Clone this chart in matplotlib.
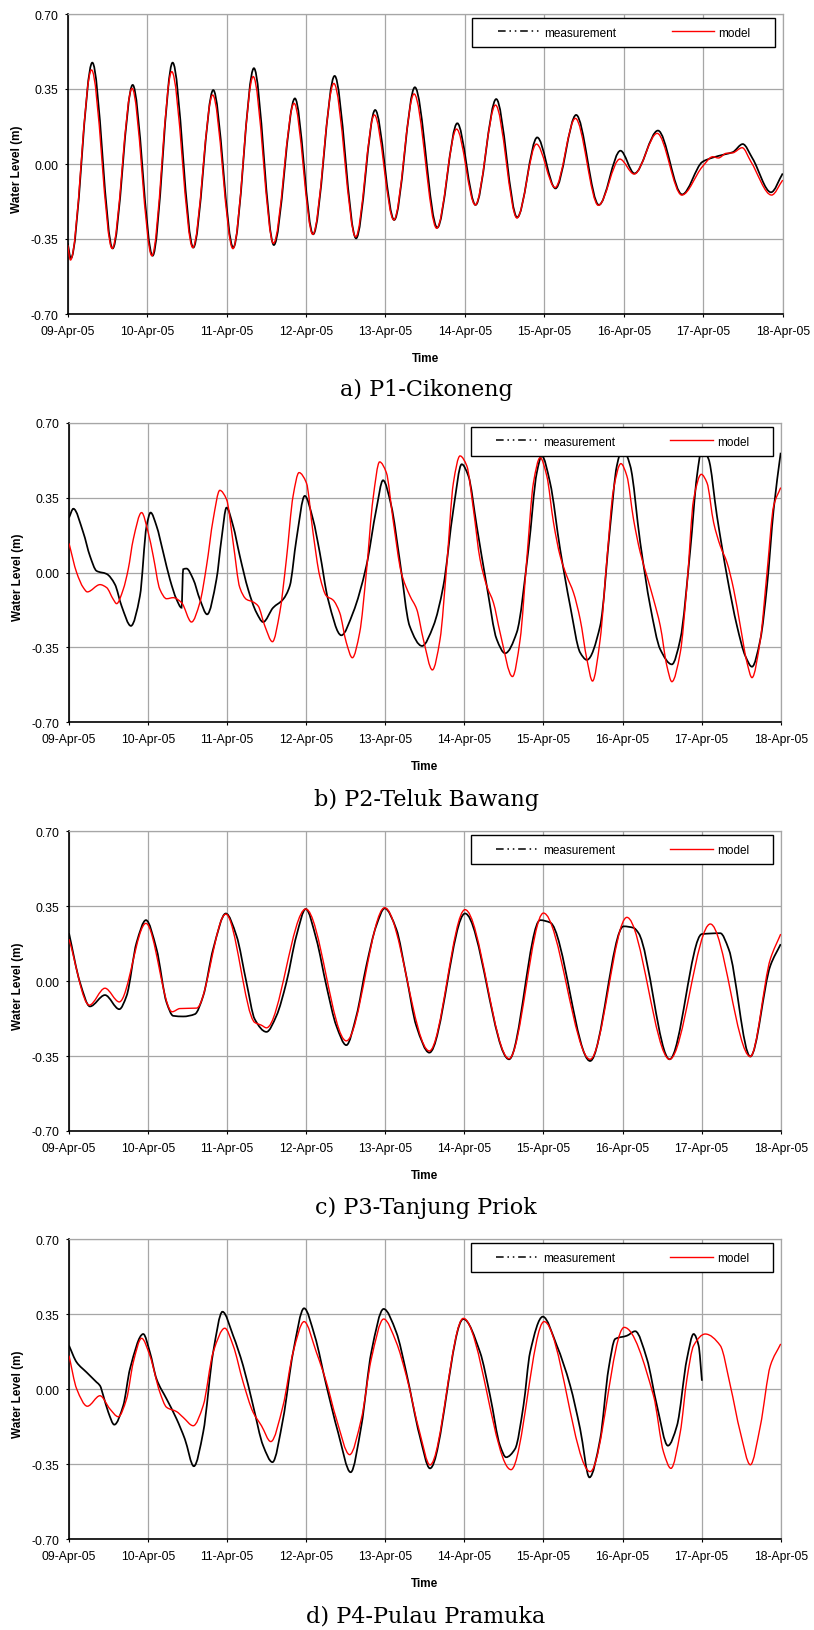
import numpy as np
import matplotlib
matplotlib.use("Agg")
import matplotlib.pyplot as plt
from matplotlib.path import Path
from matplotlib.patches import PathPatch, Rectangle
from matplotlib.lines import Line2D

plt.rcParams['font.family'] = ['Liberation Sans', 'DejaVu Sans']
plt.rcParams['axes.unicode_minus'] = False

# x axis: days since 09-Apr-05
day_labels = ['09-Apr-05', '10-Apr-05', '11-Apr-05', '12-Apr-05', '13-Apr-05',
              '14-Apr-05', '15-Apr-05', '16-Apr-05', '17-Apr-05', '18-Apr-05']
level_ticks = [-0.70, -0.35, 0.00, 0.35, 0.70]
captions = ['a) P1-Cikoneng', 'b) P2-Teluk Bawang', 'c) P3-Tanjung Priok', 'd) P4-Pulau Pramuka']

# ---- P1 Cikoneng (extrema and a few shoulder points)
p1_meas_t = [0.00, 0.04, 0.31, 0.566, 0.818, 1.069, 1.321, 1.581, 1.832, 2.084,
             2.344, 2.595, 2.86, 3.09, 3.36, 3.63, 3.87, 4.11, 4.37, 4.652,
             4.904, 5.134, 5.394, 5.658, 5.91, 6.14, 6.40, 6.686, 6.958, 7.134,
             7.43, 7.734, 7.99, 8.12, 8.27, 8.37, 8.497, 8.62, 8.853, 9.0]
p1_meas_v = [-0.37, -0.44, 0.473, -0.394, 0.369, -0.428, 0.473, -0.39, 0.345, -0.39,
             0.447, -0.378, 0.306, -0.328, 0.411, -0.347, 0.252, -0.261, 0.358, -0.297,
             0.190, -0.191, 0.303, -0.249, 0.124, -0.114, 0.229, -0.191, 0.062, -0.044,
             0.156, -0.142, 0.01, 0.03, 0.045, 0.055, 0.093, 0.026, -0.132, -0.044]
p1_mod_t = [0.00, 0.035, 0.30, 0.56, 0.81, 1.06, 1.31, 1.575, 1.825, 2.08,
            2.335, 2.59, 2.85, 3.085, 3.35, 3.625, 3.86, 4.105, 4.36, 4.645,
            4.895, 5.13, 5.385, 5.655, 5.90, 6.135, 6.39, 6.68, 6.95, 7.13,
            7.42, 7.73, 7.99, 8.12, 8.19, 8.29, 8.37, 8.49, 8.60, 8.86, 9.0]
p1_mod_v = [-0.378, -0.448, 0.439, -0.394, 0.353, -0.428, 0.431, -0.39, 0.322, -0.395,
            0.408, -0.37, 0.283, -0.328, 0.376, -0.34, 0.229, -0.261, 0.327, -0.30,
            0.163, -0.191, 0.275, -0.252, 0.093, -0.11, 0.213, -0.193, 0.023, -0.047,
            0.143, -0.145, -0.012, 0.034, 0.028, 0.05, 0.052, 0.076, 0.011, -0.145, -0.075]

# ---- P2 Teluk Bawang
p2_meas_t = [0.0, 0.055, 0.181, 0.265, 0.349, 0.476, 0.581, 0.665, 0.783, 0.897,
             0.981, 1.032, 1.107, 1.192, 1.276, 1.36, 1.423, 1.444, 1.486, 1.571,
             1.655, 1.747, 1.865, 1.928, 1.992, 2.076, 2.16, 2.265, 2.371, 2.455,
             2.581, 2.707, 2.792, 2.876, 2.981, 3.086, 3.171, 3.276, 3.444, 3.592,
             3.76, 3.886, 3.971, 4.076, 4.181, 4.307, 4.465, 4.608, 4.734, 4.861,
             4.966, 5.051, 5.156, 5.283, 5.409, 5.515, 5.662, 5.81, 5.916, 5.979,
             6.084, 6.211, 6.338, 6.464, 6.549, 6.717, 6.844, 6.928, 7.0, 7.097,
             7.224, 7.35, 7.477, 7.624, 7.73, 7.857, 7.941, 8.004, 8.089, 8.194,
             8.321, 8.447, 8.553, 8.637, 8.743, 8.827, 8.911, 9.0]
p2_meas_v = [0.257, 0.299, 0.187, 0.078, 0.008, -0.006, -0.055, -0.156, -0.249, -0.109,
             0.218, 0.281, 0.218, 0.094, -0.031, -0.125, -0.164, 0.016, 0.019, -0.031,
             -0.125, -0.195, -0.031, 0.156, 0.304, 0.218, 0.078, -0.078, -0.187, -0.231,
             -0.164, -0.125, -0.062, 0.156, 0.359, 0.249, 0.094, -0.125, -0.293, -0.187,
             0.031, 0.296, 0.432, 0.312, 0.062, -0.249, -0.343, -0.249, -0.062, 0.296,
             0.507, 0.452, 0.218, -0.062, -0.312, -0.377, -0.28, 0.109, 0.468, 0.546,
             0.42, 0.109, -0.156, -0.374, -0.408, -0.249, 0.218, 0.50, 0.58, 0.50,
             0.14, -0.156, -0.359, -0.429, -0.312, 0.109, 0.452, 0.58, 0.53, 0.265,
             -0.016, -0.249, -0.39, -0.44, -0.312, -0.062, 0.296, 0.561]
p2_mod_t = [0.0, 0.097, 0.181, 0.232, 0.392, 0.476, 0.56, 0.602, 0.686, 0.749,
            0.813, 0.918, 1.002, 1.065, 1.149, 1.234, 1.318, 1.423, 1.549, 1.655,
            1.739, 1.823, 1.907, 1.992, 2.076, 2.16, 2.244, 2.328, 2.392, 2.476,
            2.573, 2.665, 2.749, 2.834, 2.909, 3.002, 3.086, 3.171, 3.255, 3.339,
            3.423, 3.507, 3.583, 3.676, 3.76, 3.844, 3.928, 4.013, 4.097, 4.202,
            4.312, 4.397, 4.481, 4.595, 4.692, 4.776, 4.861, 4.945, 5.03, 5.114,
            5.198, 5.283, 5.367, 5.451, 5.608, 5.705, 5.789, 5.873, 5.958, 6.042,
            6.127, 6.211, 6.295, 6.38, 6.464, 6.549, 6.62, 6.717, 6.802, 6.886,
            6.979, 7.055, 7.139, 7.224, 7.308, 7.392, 7.477, 7.561, 7.624, 7.73,
            7.814, 7.899, 7.996, 8.068, 8.152, 8.236, 8.321, 8.405, 8.489, 8.574,
            8.637, 8.743, 8.827, 8.911, 9.0]
p2_mod_v = [0.137, 0.0, -0.07, -0.09, -0.056, -0.07, -0.125, -0.145, -0.078, 0.016,
            0.156, 0.281, 0.187, 0.078, -0.078, -0.122, -0.117, -0.14, -0.231, -0.14,
            0.031, 0.249, 0.385, 0.343, 0.14, -0.07, -0.125, -0.137, -0.156, -0.249,
            -0.323, -0.187, 0.062, 0.359, 0.468, 0.42, 0.187, -0.016, -0.109, -0.128,
            -0.187, -0.327, -0.398, -0.28, 0.0, 0.343, 0.518, 0.468, 0.25, 0.0,
            -0.109, -0.171, -0.312, -0.455, -0.312, 0.031, 0.42, 0.546, 0.5, 0.296,
            0.062, -0.062, -0.14, -0.28, -0.486, -0.312, 0.062, 0.42, 0.538, 0.452,
            0.234, 0.078, -0.016, -0.094, -0.218, -0.405, -0.507, -0.312, 0.062, 0.39,
            0.51, 0.452, 0.249, 0.094, -0.016, -0.125, -0.249, -0.437, -0.51, -0.374,
            -0.062, 0.343, 0.46, 0.42, 0.234, 0.125, 0.047, -0.078, -0.249, -0.421,
            -0.491, -0.312, 0.0, 0.312, 0.398]

# ---- P3 Tanjung Priok
p3_meas_t = [0.0, 0.139, 0.265, 0.455, 0.636, 0.728, 0.855, 0.973, 1.107, 1.234,
             1.318, 1.444, 1.592, 1.697, 1.823, 1.983, 2.118, 2.244, 2.349, 2.497,
             2.623, 2.749, 2.876, 2.994, 3.128, 3.255, 3.381, 3.507, 3.634, 3.76,
             3.886, 3.992, 4.139, 4.265, 4.392, 4.557, 5.008, 5.565, 5.958, 6.084,
             6.59, 7.013, 7.139, 7.203, 7.595, 8.004, 8.236, 8.342, 8.616, 8.869, 9.0]
p3_meas_v = [0.224, -0.006, -0.118, -0.065, -0.131, -0.069, 0.181, 0.285, 0.15, -0.1,
             -0.162, -0.165, -0.154, -0.069, 0.15, 0.316, 0.212, -0.006, -0.178, -0.237,
             -0.162, -0.006, 0.212, 0.337, 0.196, -0.022, -0.209, -0.299, -0.162, 0.072,
             0.259, 0.34, 0.243, 0.025, -0.209, -0.334, 0.316, -0.365, 0.285, 0.274,
             -0.373, 0.256, 0.249, 0.224, -0.365, 0.22, 0.224, 0.15, -0.352, 0.072, 0.173]
p3_mod_t = [0.0, 0.257, 0.455, 0.636, 0.973, 1.305, 1.402, 1.613, 1.983, 2.349,
            2.434, 2.497, 2.994, 3.507, 3.992, 4.557, 5.008, 5.565, 6.0, 6.59,
            7.055, 7.595, 8.11, 8.616, 8.869, 9.0]
p3_mod_v = [0.196, -0.112, -0.033, -0.097, 0.27, -0.143, -0.128, -0.126, 0.313, -0.193,
            -0.206, -0.218, 0.337, -0.279, 0.343, -0.326, 0.334, -0.362, 0.318, -0.365,
            0.298, -0.365, 0.267, -0.352, 0.103, 0.22]

# ---- P4 Pulau Pramuka (measurement stops on 17-Apr)
p4_meas_t = [0.0, 0.097, 0.223, 0.349, 0.392, 0.434, 0.497, 0.573, 0.686, 0.771,
             0.939, 1.023, 1.107, 1.234, 1.36, 1.465, 1.579, 1.697, 1.823, 1.941,
             2.076, 2.202, 2.328, 2.455, 2.573, 2.707, 2.834, 2.973, 3.107, 3.255,
             3.402, 3.562, 3.697, 3.823, 3.979, 4.139, 4.265, 4.434, 4.565, 4.987,
             5.198, 5.325, 5.451, 5.527, 5.641, 5.747, 5.831, 5.992, 6.169, 6.338,
             6.464, 6.582, 6.717, 6.823, 6.907, 7.055, 7.16, 7.308, 7.435, 7.574,
             7.688, 7.814, 7.899, 7.962, 8.004]
p4_meas_v = [0.204, 0.126, 0.079, 0.033, 0.017, -0.03, -0.107, -0.165, -0.076, 0.095,
             0.258, 0.173, 0.048, -0.045, -0.138, -0.232, -0.359, -0.2, 0.173, 0.362,
             0.25, 0.11, -0.076, -0.263, -0.34, -0.138, 0.173, 0.378, 0.25, 0.017,
             -0.2, -0.387, -0.17, 0.173, 0.375, 0.266, 0.079, -0.216, -0.369, 0.328,
             0.173, -0.03, -0.263, -0.317, -0.278, -0.076, 0.173, 0.339, 0.204, 0.017,
             -0.185, -0.411, -0.232, 0.095, 0.235, 0.25, 0.271, 0.142, -0.076, -0.263,
             -0.17, 0.142, 0.258, 0.204, 0.04]
p4_mod_t = [0.0, 0.097, 0.232, 0.392, 0.518, 0.623, 0.728, 0.813, 0.918, 1.023,
            1.149, 1.234, 1.36, 1.444, 1.571, 1.697, 1.823, 1.97, 2.076, 2.202,
            2.328, 2.434, 2.552, 2.707, 2.834, 2.973, 3.128, 3.255, 3.381, 3.549,
            3.697, 3.823, 3.979, 4.139, 4.265, 4.434, 4.565, 4.987, 5.59, 6.008,
            6.591, 7.021, 7.392, 7.519, 7.612, 7.73, 7.814, 7.899, 8.046, 8.236,
            8.363, 8.489, 8.616, 8.743, 8.869, 9.0]
p4_mod_v = [0.157, 0.002, -0.079, -0.03, -0.092, -0.128, -0.045, 0.126, 0.238, 0.157,
            -0.014, -0.084, -0.104, -0.131, -0.17, -0.076, 0.173, 0.285, 0.204, 0.033,
            -0.107, -0.17, -0.244, -0.076, 0.173, 0.316, 0.173, 0.033, -0.138, -0.305,
            -0.138, 0.142, 0.328, 0.219, 0.064, -0.2, -0.353, 0.331, -0.375, 0.316,
            -0.384, 0.289, -0.03, -0.294, -0.369, -0.2, 0.048, 0.204, 0.258, 0.204,
            0.017, -0.2, -0.352, -0.17, 0.11, 0.212]

panels = [
    (p1_meas_t, p1_meas_v, p1_mod_t, p1_mod_v),
    (p2_meas_t, p2_meas_v, p2_mod_t, p2_mod_v),
    (p3_meas_t, p3_meas_v, p3_mod_t, p3_mod_v),
    (p4_meas_t, p4_meas_v, p4_mod_t, p4_mod_v),
]


def smooth_path(t, v):
    """Smoothed line through the read points (monotone cubic, drawn as bezier)"""
    t = np.asarray(t, float)
    v = np.asarray(v, float)
    h = np.diff(t)
    d = np.diff(v) / h
    m = np.zeros_like(v)
    for i in range(1, len(v) - 1):
        if d[i - 1] * d[i] > 0:
            w1 = 2 * h[i] + h[i - 1]
            w2 = h[i] + 2 * h[i - 1]
            m[i] = (w1 + w2) / (w1 / d[i - 1] + w2 / d[i])
    m[0] = d[0]
    m[-1] = d[-1]
    verts = [(t[0], v[0])]
    codes = [Path.MOVETO]
    for i in range(len(h)):
        verts.append((t[i] + h[i] / 3, v[i] + m[i] * h[i] / 3))
        verts.append((t[i + 1] - h[i] / 3, v[i + 1] - m[i + 1] * h[i] / 3))
        verts.append((t[i + 1], v[i + 1]))
        codes += [Path.CURVE4] * 3
    return Path(verts, codes)


fig = plt.figure(figsize=(8.14, 16.31), dpi=100)
W, H = 814.0, 1631.0

# plot areas in pixels: left, right, top, bottom
boxes = [(67.7, 782.7, 15.0, 315.0),
         (69.0, 780.7, 424.0, 723.3),
         (69.0, 780.7, 832.3, 1132.0),
         (69.0, 780.7, 1240.3, 1540.3)]
caption_y = [390, 800, 1208, 1617]

for k, (l, r, tp, bt) in enumerate(boxes):
    ax = fig.add_axes([l / W, 1 - bt / H, (r - l) / W, (bt - tp) / H])
    mt, mv, rt, rv = panels[k]

    ax.add_patch(PathPatch(smooth_path(mt, mv), facecolor='none', edgecolor='black',
                           lw=1.25, zorder=3))
    ax.add_patch(PathPatch(smooth_path(rt, rv), facecolor='none', edgecolor='#ff0000',
                           lw=1.0, zorder=4))

    ax.set_xlim(0, 9)
    ax.set_ylim(-0.70, 0.70)
    ax.set_xticks(range(len(day_labels)))
    ax.set_xticklabels(day_labels)
    ax.set_yticks(level_ticks)
    ax.set_yticklabels(['%.2f' % y for y in level_ticks])
    ax.tick_params(axis='both', direction='out', length=2.2, width=0.8, labelsize=8.7)
    ax.tick_params(axis='x', pad=5.8)
    ax.tick_params(axis='y', pad=4.5)
    ax.grid(True, color='#a6a6a6', lw=0.9)
    ax.set_axisbelow(True)
    for s in ['top', 'right']:
        ax.spines[s].set_color('#a6a6a6')
        ax.spines[s].set_linewidth(0.9)
    for s in ['left', 'bottom']:
        ax.spines[s].set_color('black')
        ax.spines[s].set_linewidth(1.2)

    ax.text(-0.071, 0.487, 'Water Level (m)', rotation=90, transform=ax.transAxes,
            ha='center', va='center', fontsize=8.5, fontweight='bold')
    ax.text(0.5, -0.147, 'Time', transform=ax.transAxes, ha='center', va='center',
            fontsize=8.5, fontweight='bold')

    # legend box
    ax.add_patch(Rectangle((0.565, 0.89), 0.424, 0.097, transform=ax.transAxes,
                           facecolor='white', edgecolor='black', lw=1.0, zorder=6))
    handles = [Line2D([], [], color='black', lw=1.1, ls=(0, (5, 2.5, 1, 2.5, 1, 2.5))),
               Line2D([], [], color='#ff0000', lw=1.0)]
    leg = ax.legend(handles, ['measurement', 'model'], loc='center',
                    bbox_to_anchor=(0.778, 0.938), frameon=False, ncol=2,
                    handlelength=3.6, handletextpad=0.35, columnspacing=4.7,
                    fontsize=8.5, borderaxespad=0)
    leg.set_zorder(7)

    fig.text(426 / W, 1 - caption_y[k] / H, captions[k], ha='center', va='center',
             family='DejaVu Serif', fontsize=16)

fig.savefig('out.png', dpi=100)
